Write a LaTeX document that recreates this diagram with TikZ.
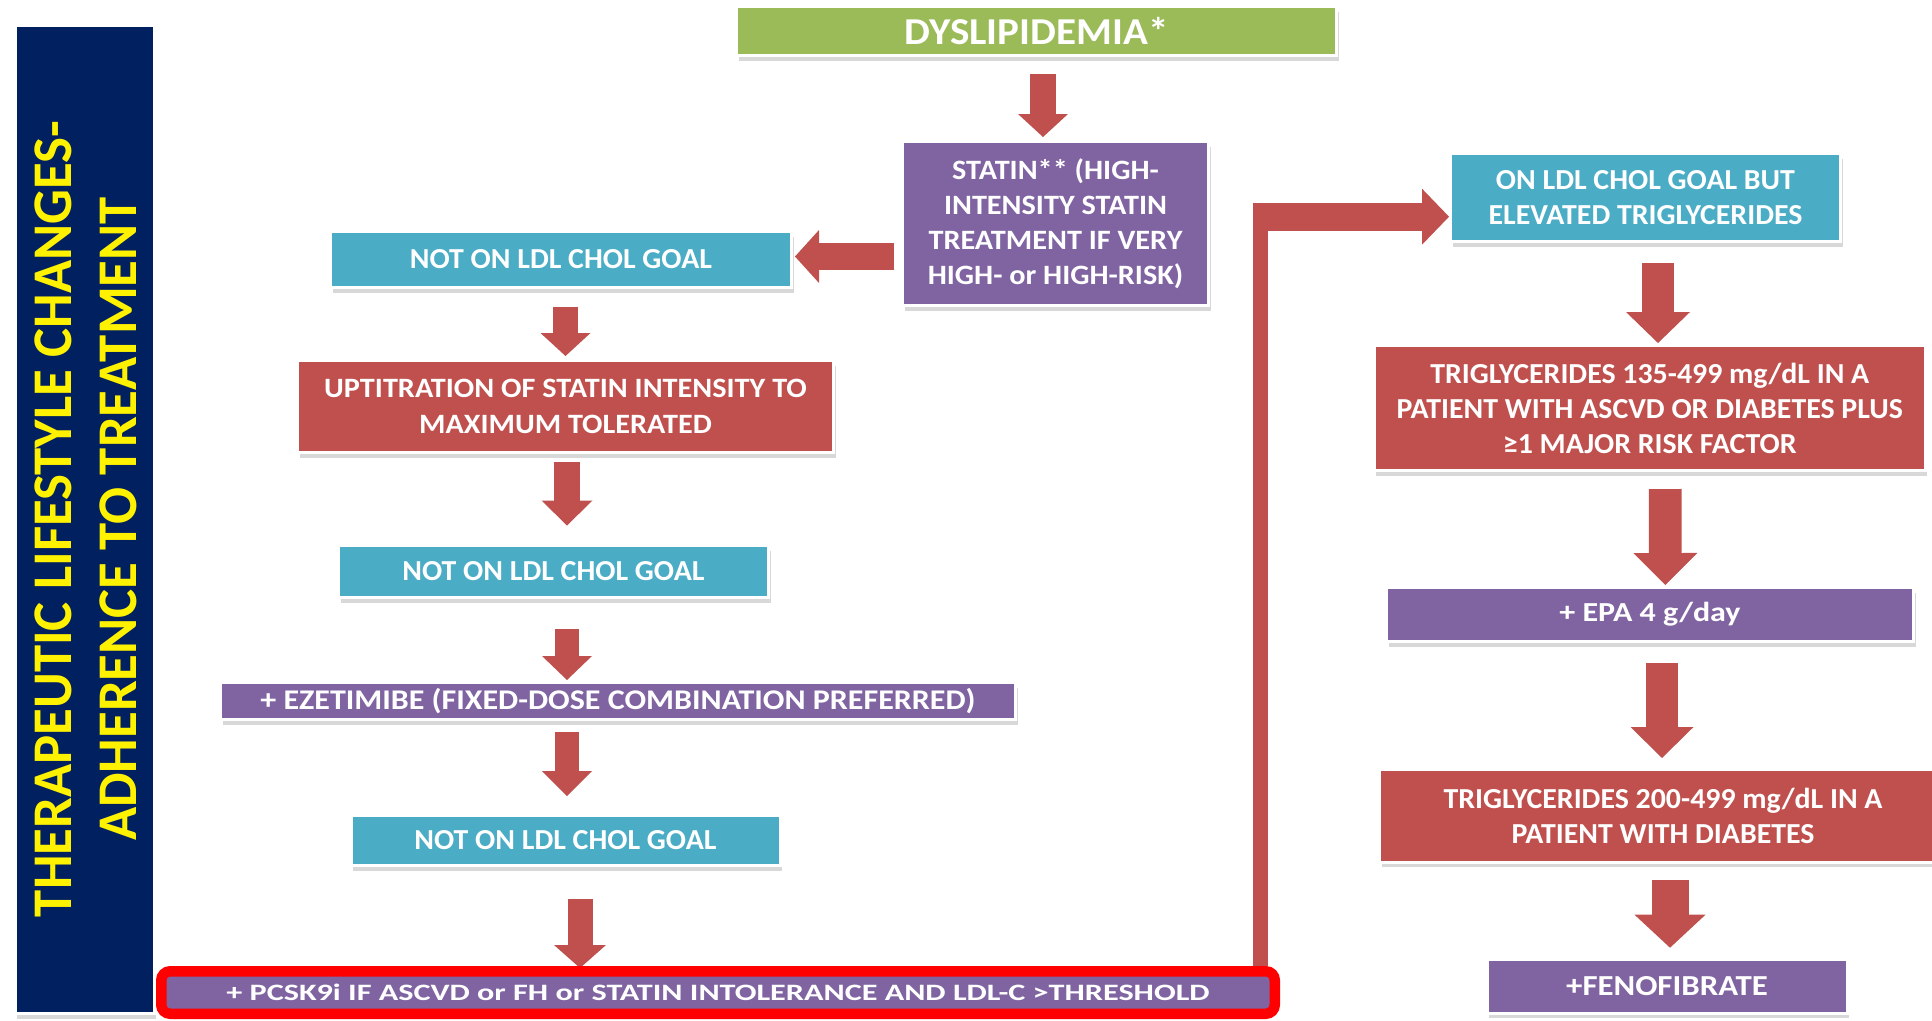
\documentclass[tikz,border=0pt]{standalone}
\usepackage{fontspec}
\setmainfont{Carlito}[FakeStretch=1.03]
\newfontfamily\widefont{Carlito}[FakeStretch=1.08]
\usetikzlibrary{arrows.meta,shadows,backgrounds}

\definecolor{navyc}{HTML}{002060}
\definecolor{greenc}{HTML}{9BBB59}
\definecolor{purplec}{HTML}{8064A2}
\definecolor{tealc}{HTML}{4BACC6}
\definecolor{redc}{HTML}{C0504D}
\definecolor{outlinec}{HTML}{FF0000}

\tikzset{
  box/.style={draw=white, line width=3pt, inner sep=0pt, outer sep=0pt,
    text=white, align=center, font=\bfseries\fontsize{29}{35}\selectfont,
    drop shadow={shadow xshift=2pt, shadow yshift=-5pt, opacity=0.3}},
  greenbox/.style={box, fill=greenc},
  purplebox/.style={box, fill=purplec},
  tealbox/.style={box, fill=tealc},
  redbox/.style={box, fill=redc},
  sidetext/.style={rotate=90, text=yellow, align=center,
    font=\bfseries\fontsize{56}{64.5}\selectfont},
  framedbox/.style={fill=purplec, draw=outlinec, line width=10.5pt,
    rounded corners=9pt, inner sep=0pt, text=white,
    font=\bfseries\fontsize{23.5}{28}\selectfont},
  barrow/.style n args={3}{draw=redc, line width=#1,
    -{Triangle[width=#2, length=#3, line width=0pt]}}
}

\begin{document}
\begin{tikzpicture}[x=1pt,y=-1pt]
\useasboundingbox (0,0) rectangle (1932,1020);

% side bar
\node[box, fill=navyc, minimum width=139pt, minimum height=988pt] (side) at (84.7,519.5) {};
\node[sidetext] (sidelbl) at (86,519) {\scalebox{0.95}[1]{THERAPEUTIC LIFESTYLE CHANGES-}\\\scalebox{0.95}[1]{ADHERENCE TO TREATMENT}};

% left column
\node[greenbox, minimum width=600pt, minimum height=49pt, font=\widefont\bfseries\fontsize{38}{44}\selectfont] (dysl) at (1036.5,31) {DYSLIPIDEMIA*};
\node[purplebox, minimum width=306pt, minimum height=164pt, font=\widefont\bfseries\fontsize{28}{35}\selectfont] (statin) at (1055.5,223.5) {STATIN** (HIGH-\\INTENSITY STATIN\\TREATMENT IF VERY\\HIGH- or HIGH-RISK)};
\node[tealbox, minimum width=461pt, minimum height=56pt] (notA) at (561,259.5) {NOT ON LDL CHOL GOAL};
\node[redbox, minimum width=536pt, minimum height=92pt, font=\widefont\bfseries\fontsize{28}{36.7}\selectfont] (upt) at (565.5,406.5) {UPTITRATION OF STATIN INTENSITY TO\\MAXIMUM TOLERATED};
\node[tealbox, minimum width=430pt, minimum height=52pt] (notB) at (553.5,571.5) {NOT ON LDL CHOL GOAL};
\node[purplebox, minimum width=795pt, minimum height=37pt, font=\bfseries\fontsize{28.5}{34}\selectfont] (eze) at (618,701) {\scalebox{1.09}[1]{+ EZETIMIBE (FIXED-DOSE COMBINATION PREFERRED)}};
\node[tealbox, minimum width=429pt, minimum height=50pt] (notC) at (565.5,840.5) {NOT ON LDL CHOL GOAL};
\node[framedbox, minimum width=1113.5pt, minimum height=42.5pt] (pcsk) at (718,992.5) {\scalebox{1.33}[1]{+ PCSK9i IF ASCVD or FH or STATIN INTOLERANCE AND LDL-C >THRESHOLD}};

% right column
\node[tealbox, minimum width=390pt, minimum height=88pt] (onldl) at (1645.5,197.5) {ON LDL CHOL GOAL BUT\\ELEVATED TRIGLYCERIDES};
\node[redbox, minimum width=551pt, minimum height=125pt] (trigA) at (1649.75,408) {TRIGLYCERIDES 135-499 mg/dL IN A\\PATIENT WITH ASCVD OR DIABETES PLUS\\≥1 MAJOR RISK FACTOR};
\node[purplebox, minimum width=527pt, minimum height=54pt, font=\bfseries\fontsize{27.5}{33}\selectfont] (epa) at (1650,614.5) {\scalebox{1.13}[1]{+ EPA 4 g/day}};
\node[redbox, minimum width=567pt, minimum height=93pt] (trigB) at (1663,815.5) {TRIGLYCERIDES 200-499 mg/dL IN A\\PATIENT WITH DIABETES};
\node[purplebox, minimum width=360pt, minimum height=54pt] (feno) at (1667,986) {\scalebox{1.1}[1]{+FENOFIBRATE}};

\coordinate (bend) at (1260,216.7);

% arrows
\draw[barrow={26pt}{50pt}{23pt}] ([xshift=6.5pt,yshift=-18.5pt]dysl.south) -- ([xshift=-12.5pt,yshift=4.5pt]statin.north);
\draw[barrow={27pt}{53pt}{24pt}] ([xshift=-8.5pt,yshift=-33pt]statin.west) -- ([xshift=3.5pt,yshift=3pt]notA.east);
\draw[barrow={25pt}{50pt}{23pt}] ([xshift=4.5pt,yshift=-19pt]notA.south) -- ([yshift=4.5pt]upt.north);
\draw[barrow={26pt}{51pt}{25pt}] ([xshift=1.5pt,yshift=-9.5pt]upt.south) -- ([xshift=13.5pt,yshift=20pt]notB.north);
\draw[barrow={24.5pt}{50pt}{24pt}] ([xshift=13.5pt,yshift=-31.5pt]notB.south) -- ([xshift=-51pt,yshift=2.5pt]eze.north);
\draw[barrow={24.5pt}{50pt}{25pt}] ([xshift=-51pt,yshift=-12.5pt]eze.south) -- ([xshift=1.5pt,yshift=19.5pt]notC.north);

\draw[barrow={32pt}{64pt}{31pt}] ([xshift=12.5pt,yshift=-21.5pt]onldl.south) -- ([xshift=8.25pt,yshift=2.5pt]trigA.north);
\draw[barrow={32.7pt}{64pt}{32pt}] ([xshift=15.5pt,yshift=-18.5pt]trigA.south) -- ([xshift=15.3pt,yshift=2.5pt]epa.north);
\draw[barrow={32.5pt}{63pt}{31pt}] ([xshift=12pt,yshift=-21.5pt]epa.south) -- ([xshift=-1pt,yshift=11pt]trigB.north);
\draw[barrow={37pt}{71pt}{33pt}] ([xshift=7pt,yshift=-18pt]trigB.south) -- ([xshift=3pt,yshift=11.3pt]feno.north);

\begin{scope}[on background layer]
  \fill[white] (0,0) rectangle (1932,1020);
  \draw[barrow={25pt}{52pt}{23pt}] ([xshift=14.5pt,yshift=-33.5pt]notC.south) -- ([xshift=-138pt,yshift=-2pt]pcsk.north);
  \draw[draw=redc, line width=15pt] ([xshift=542pt]pcsk.north) -- ([yshift=14pt]bend);
\end{scope}
\draw[barrow={28pt}{56pt}{27pt}, shorten >=1.5pt] ([xshift=-7.5pt]bend) -- (bend -| onldl.west);
\end{tikzpicture}
\end{document}
